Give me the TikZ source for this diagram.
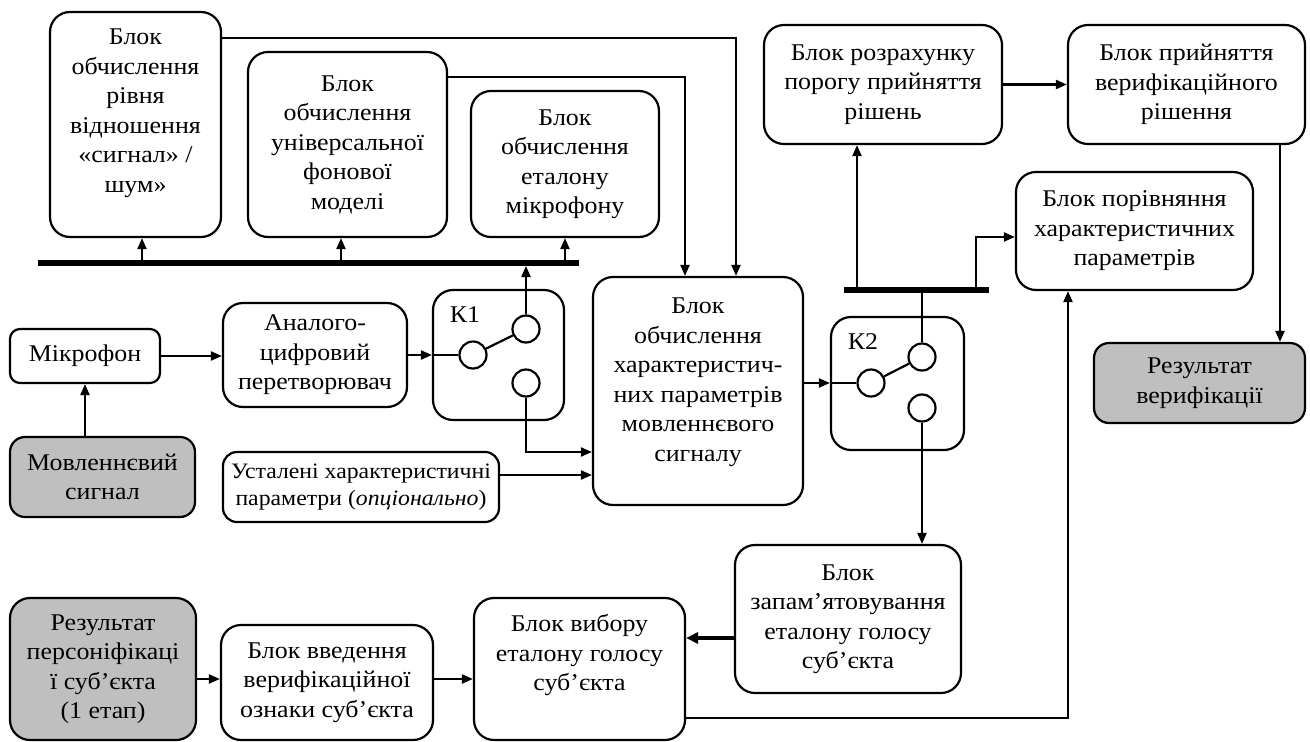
\documentclass[tikz,border=0pt]{standalone}
\usepackage{fontspec}
\setmainfont{Liberation Serif}[FakeStretch=1.08]
\usetikzlibrary{arrows.meta,calc}
\begin{document}
\begin{tikzpicture}[x=1pt,y=-1pt,
  txt/.style={align=center, inner sep=0pt, font=\fontsize{24}{29.5}\selectfont},
  blk/.style={draw, line width=2.2pt, rounded corners=20pt, txt},
  gblk/.style={blk, fill=gray!50},
  sblk/.style={blk, rounded corners=10pt},
  sw/.style={draw, circle, line width=2.2pt, minimum size=27pt, inner sep=0pt},
  ln/.style={line width=2.2pt},
  arr/.style={line width=2.2pt, -{Triangle[length=11pt,width=9pt]}},
  tarr/.style={line width=3.6pt, -{Triangle[length=12pt,width=11pt]}},
  bus/.style={line width=6pt}
]
\useasboundingbox (0,0) rectangle (1310,742);

% top row
\node[blk, minimum width=171pt, minimum height=225pt] (b1) at (135.5,124.5) {};
\node[txt] (b1t) at (135.5,113) {Блок\\обчислення\\рівня\\відношення\\«сигнал» /\\шум»};
\node[blk, minimum width=199pt, minimum height=185pt] (b2) at (347.5,144.5) {Блок\\обчислення\\універсальної\\фонової\\моделі};
\node[blk, minimum width=188pt, minimum height=146pt] (b3) at (565,164) {Блок\\обчислення\\еталону\\мікрофону};
\node[blk, minimum width=238pt, minimum height=119pt] (thr) at (883,84.5) {Блок розрахунку\\порогу прийняття\\рішень};
\node[blk, minimum width=237pt, minimum height=119pt] (dec) at (1186.5,84.5) {Блок прийняття\\верифікаційного\\рішення};
\node[blk, minimum width=237pt, minimum height=118pt] (cmp) at (1134.5,231) {Блок порівняння\\характеристичних\\параметрів};

% buses
\coordinate (bus1a) at (38,263);
\coordinate (bus1b) at (579,263);
\coordinate (bus2a) at (844,290);
\coordinate (bus2b) at (989,290);
\draw[bus] (bus1a) -- (bus1b);
\draw[bus] (bus2a) -- (bus2b);

% middle row
\node[sblk, minimum width=150pt, minimum height=54pt] (mic) at (85,356) {Мікрофон};
\node[blk, minimum width=184pt, minimum height=104pt] (adc) at (315,355) {Аналого-\\цифровий\\перетворювач};
\node[blk, minimum width=131pt, minimum height=130pt] (k1) at (498.5,355) {};
\node[txt] (k1l) at (465,315) {К1};
\node[sw] (k1a) at (473,355) {};
\node[sw] (k1b) at (526,329) {};
\node[sw] (k1c) at (526,383) {};
\node[blk, minimum width=210pt, minimum height=228pt] (main) at (698,391) {};
\node[txt] (maint) at (698,382) {Блок\\обчислення\\характеристич-\\них параметрів\\мовленнєвого\\сигналу};
\node[blk, minimum width=133pt, minimum height=133pt] (k2) at (897.5,383.5) {};
\node[txt] (k2l) at (863,342) {К2};
\node[sw] (k2a) at (871,383) {};
\node[sw] (k2b) at (922,357) {};
\node[sw] (k2c) at (922,408) {};
\node[gblk, rounded corners=15pt, minimum width=211pt, minimum height=80pt] (res) at (1199.5,383) {Результат\\верифікації};
\node[gblk, rounded corners=15pt, minimum width=185pt, minimum height=80pt] (speech) at (102.5,477) {Мовленнєвий\\сигнал};
\node[blk, rounded corners=14pt, minimum width=276pt, minimum height=70pt, font=\fontsize{22}{27}\selectfont] (ust) at (361,487) {Усталені характеристичні\\параметри (\textit{опціонально})};

% bottom row
\node[blk, minimum width=226pt, minimum height=148pt] (mem) at (848,619) {Блок\\запам’ятовування\\еталону голосу\\суб’єкта};
\node[blk, minimum width=211pt, minimum height=142pt] (sel) at (579.5,669) {};
\node[txt] (selt) at (579.5,655) {Блок вибору\\еталону голосу\\суб’єкта};
\node[blk, minimum width=212pt, minimum height=115pt] (intro) at (327,682.5) {Блок введення\\верифікаційної\\ознаки суб’єкта};
\node[gblk, minimum width=186pt, minimum height=142pt] (pers) at (103,669) {Результат\\персоніфікаці\\ї суб’єкта\\(1 етап)};

% connectors
\draw[arr] (b1.east |- 0,38) -| ([xshift=38pt]main.north);
\draw[arr] (b2.east |- 0,77) -| ([xshift=-13pt]main.north);
\draw[arr] (bus1a -| 142,0) -- (b1.south -| 142,0);
\draw[arr] (bus1a -| 341,0) -- (b2.south -| 341,0);
\draw[arr] (bus1a -| b3.south) -- (b3.south);
\draw[arr] (k1b.north) -- ($(k1b.north |- bus1a)+(0,3)$);
\draw[arr] (mic.east) -- (mic.east -| adc.west);
\draw[arr] (speech.north -| mic.south) -- (mic.south);
\draw[arr] (adc.east) -- (adc.east -| k1.west);
\draw[ln] (adc.east -| k1.west) -- (k1a);
\draw[ln] (k1a) -- (k1b);
\draw[arr] (k1c.south) |- (main.west |- 0,452);
\draw[arr] (ust.east |- 0,475) -- (main.west |- 0,475);
\draw[arr] (main.east |- k2a) -- (k2.west |- k2a);
\draw[ln] (k2.west |- k2a) -- (k2a);
\draw[ln] (k2a) -- (k2b);
\draw[ln] (k2b.north) -- (k2b.north |- bus2a);
\draw[arr] (k2c.south) -- (k2c.south |- mem.north);
\draw[arr] (bus2a -| 857,0) -- (thr.south -| 857,0);
\draw[arr] (bus2a -| 976,0) |- (cmp.west |- 0,237);
\draw[arr] (thr.east) -- (dec.west);
\draw[arr] (dec.south -| 1280,0) -- (res.north -| 1280,0);
\draw[arr] (pers.east |- 0,679) -- (intro.west |- 0,679);
\draw[arr] (intro.east |- 0,679) -- (sel.west |- 0,679);
\draw[tarr] (mem.west |- 0,638) -- (sel.east |- 0,638);
\draw[arr] (sel.east |- 0,718) -| (cmp.south -| 1068,0);
\end{tikzpicture}
\end{document}
